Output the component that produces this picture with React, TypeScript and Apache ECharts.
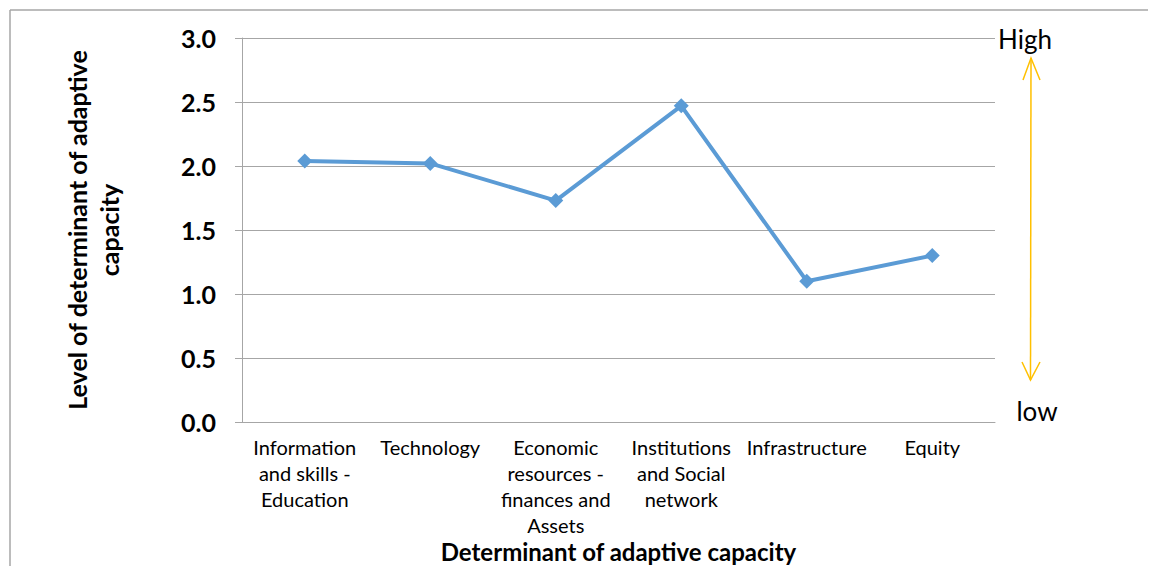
import React, { useEffect, useRef } from "react";
import * as echarts from "echarts";

const categories = [
  "Information\nand skills -\nEducation",
  "Technology",
  "Economic\nresources -\nfinances and\nAssets",
  "Institutions\nand Social\nnetwork",
  "Infrastructure",
  "Equity",
];
const values = [2.04, 2.02, 1.73, 2.47, 1.1, 1.3];
const xAxisName = "Determinant of adaptive capacity";
const yAxisName = "Level of determinant of adaptive\ncapacity";
const highLabel = "High";
const lowLabel = "low";

const FONT = "Lato, 'Open Sans', sans-serif";
const GRAY = "#a6a6a6";
const ARROW = "#ffc000";

export default function App() {
  const ref = useRef<HTMLDivElement>(null);
  useEffect(() => {
    if (!ref.current) return;
    const chart = echarts.init(ref.current, undefined, { renderer: "svg" });
    chart.setOption({
      animation: false,
      backgroundColor: "#ffffff",
      textStyle: { fontFamily: FONT, color: "#000" },
      grid: { left: 242, right: 155, top: 38, bottom: 144, containLabel: false, outerBoundsMode: "none" },
      xAxis: {
        type: "category",
        data: categories,
        boundaryGap: true,
        name: xAxisName,
        nameLocation: "middle",
        nameGap: 117,
        nameMoveOverlap: false,
        nameTextStyle: { fontSize: 24, fontWeight: "bold", color: "#000", fontFamily: FONT },
        axisLine: { show: true, lineStyle: { color: GRAY, width: 1 } },
        axisTick: { show: false },
        axisLabel: {
          interval: 0,
          fontSize: 20,
          lineHeight: 26,
          color: "#000",
          margin: 12,
          fontFamily: FONT,
        },
      },
      yAxis: {
        type: "value",
        min: 0,
        max: 3,
        interval: 0.5,
        name: yAxisName,
        nameLocation: "middle",
        nameRotate: 90,
        nameGap: 117,
        nameMoveOverlap: false,
        nameTextStyle: { fontSize: 25, fontWeight: "bold", color: "#000", fontFamily: FONT, lineHeight: 32, align: "center" },
        axisLine: { show: true, lineStyle: { color: GRAY, width: 1 } },
        axisTick: { show: true, length: 7, lineStyle: { color: GRAY } },
        splitLine: { show: true, lineStyle: { color: GRAY, width: 1 } },
        axisLabel: {
          formatter: (v: number) => v.toFixed(1),
          fontSize: 25,
          fontWeight: "bold",
          color: "#000",
          margin: 26,
          fontFamily: FONT,
        },
      },
      series: [
        {
          type: "line",
          data: values,
          symbol: "diamond",
          symbolSize: 15,
          lineStyle: { color: "#5b9bd5", width: 4 },
          itemStyle: { color: "#5b9bd5" },
        },
      ],
      graphic: [
        { type: "line", shape: { x1: 10, y1: 10, x2: 1148, y2: 10 }, style: { stroke: GRAY, lineWidth: 1.5 } },
        { type: "line", shape: { x1: 10, y1: 10, x2: 10, y2: 566 }, style: { stroke: GRAY, lineWidth: 1.5 } },
        { type: "line", shape: { x1: 1031, y1: 58, x2: 1030.5, y2: 380 }, style: { stroke: ARROW, lineWidth: 1.5 } },
        { type: "polyline", shape: { points: [[1023, 80], [1031, 58], [1040, 80]] }, style: { stroke: ARROW, fill: "none", lineWidth: 1.5 } },
        { type: "polyline", shape: { points: [[1022, 362], [1030.5, 380], [1040, 362]] }, style: { stroke: ARROW, fill: "none", lineWidth: 1.5 } },
        {
          type: "text",
          x: 1025,
          y: 39,
          style: { text: highLabel, fontSize: 26, fontFamily: FONT, fill: "#000", align: "center", verticalAlign: "middle" },
        },
        {
          type: "text",
          x: 1037,
          y: 411,
          style: { text: lowLabel, fontSize: 26, fontFamily: FONT, fill: "#000", align: "center", verticalAlign: "middle" },
        },
      ],
    });
    return () => chart.dispose();
  }, []);
  return (
    <div
      ref={ref}
      style={{ position: "fixed", left: 0, top: 0, width: 1150, height: 566, background: "#fff" }}
    />
  );
}
